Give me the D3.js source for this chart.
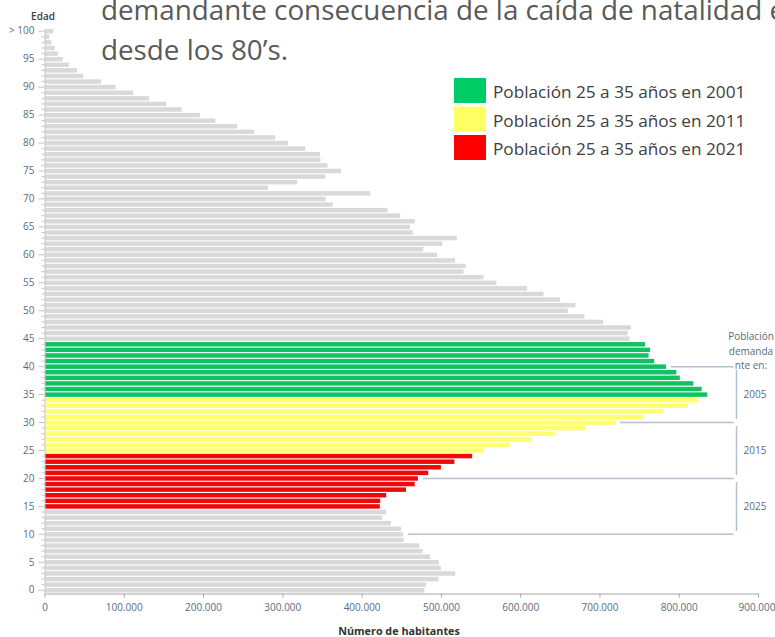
<!DOCTYPE html>
<html>
<head>
<meta charset="utf-8">
<script src="https://cdn.jsdelivr.net/npm/d3@7"></script>
<style>
  body { margin: 0; background: #fff; }
  svg { display: block; font-family: "Open Sans", sans-serif; }
</style>
</head>
<body>
<script>
// edades 0 .. 100 (la ultima es "> 100")
const ages = d3.range(0, 101)
const habitantes = [
  479000, 481000, 497000, 518000, 500000, 497500, 486500, 477000, 472700, 453000,   // 0-9
  452000, 449600, 437000, 426000, 431000, 423000, 423500, 431000, 456000, 467000,   // 10-19
  471000, 484000, 500000, 517000, 539500, 554600, 586500, 613500, 644500, 682000,   // 20-29
  719700, 754700, 780000, 811000, 824700, 836000, 829000, 818500, 801400, 797000,   // 30-39
  784000, 769000, 762000, 764000, 757500, 737800, 735700, 739700, 704600, 681000,   // 40-49
  660000, 669600, 650400, 629400, 608800, 570000, 553700, 528500, 531000, 518000,   // 50-59
  495000, 477700, 501700, 520000, 464700, 461000, 467000, 448700, 432700, 363700,   // 60-69
  354800, 411000, 282000, 318700, 354000, 374000, 357000, 348000, 347500, 329000,   // 70-79
  307000, 291000, 264700, 243000, 215500, 196000, 173000, 153400, 132000, 112000,   // 80-89
  89500, 71500, 48800, 41000, 30600, 23000, 16800, 13000, 8800, 6000,               // 90-99
  11000                                                                             // >100
]

const xTicks = [0, 100000, 200000, 300000, 400000, 500000, 600000, 700000, 800000, 900000]

// grupos resaltados
const groupLabels = ["Población 25 a 35 años en 2001", "Población 25 a 35 años en 2011", "Población 25 a 35 años en 2021"]
const groupColors = ["#10c264", "#ffff70", "#ee0a0a"]
const legendColors = ["#00cc66", "#ffff66", "#ff0000"]
const groupFrom = [35, 25, 15]
const groupTo = [44, 34, 24]

// llaves de la derecha
const bracketAges = [40, 30, 20, 10]
const bracketYears = ["2005", "2015", "2025"]
const bracketTitle = ["Población", "demanda", "nte en:"]

const titleLines = ["demandante consecuencia de la caída de natalidad en", "desde los 80’s."]

const width = 775
const height = 637

const svg = d3.select("body").append("svg")
  .attr("width", width)
  .attr("height", height)

const x = d3.scaleLinear()
  .domain([0, 900000])
  .range([44.5, 758])

const y = d3.scaleBand()
  .domain(ages.slice().reverse())
  .range([29, 592.5])
  .paddingInner(0.2)

const fmt = d3.formatLocale({decimal: ",", thousands: ".", grouping: [3], currency: ["", ""]}).format(",")

const colorFor = age => {
  for (let i = 0; i < groupFrom.length; i++) {
    if (age >= groupFrom[i] && age <= groupTo[i]) return groupColors[i]
  }
  return "#d9d9d9"
}

// titulo (cortado como en la diapositiva)
svg.append("text")
  .attr("x", 101).attr("y", 20)
  .attr("font-size", 27.8).attr("fill", "#595959")
  .text(titleLines[0])
svg.append("text")
  .attr("x", 101).attr("y", 60)
  .attr("font-size", 27.8).attr("fill", "#595959")
  .text(titleLines[1])

// barras
svg.selectAll("rect.bar")
  .data(ages)
  .enter()
  .append("rect")
  .attr("class", "bar")
  .attr("x", x(0) + 0.5)
  .attr("y", d => y(d))
  .attr("width", d => x(habitantes[d]) - x(0) - 0.5)
  .attr("height", y.bandwidth())
  .attr("fill", d => colorFor(d))

// eje y
const yAxis = d3.axisLeft(y)
  .tickValues(ages)
  .tickSize(3)
  .tickSizeOuter(0)
  .tickPadding(7)
  .tickFormat(d => d === 100 ? "> 100" : (d % 5 === 0 ? d : ""))

const gY = svg.append("g")
  .attr("transform", "translate(" + x(0) + ",0)")
  .call(yAxis)
gY.select(".domain").attr("stroke", "#c4c4c4")
gY.selectAll(".tick line").attr("stroke", "#c4c4c4")
gY.selectAll(".tick").filter(d => d % 5 === 0).select("line").attr("x2", -6)
gY.selectAll(".tick text")
  .attr("font-size", 10)
  .attr("fill", "#5b6b7c")
  .attr("font-family", "Open Sans, sans-serif")

svg.append("text")
  .attr("x", 43).attr("y", 20)
  .attr("text-anchor", "middle")
  .attr("font-size", 10).attr("font-weight", 600)
  .attr("fill", "#404040")
  .text("Edad")

// eje x
const xAxis = d3.axisBottom(x)
  .tickValues(xTicks)
  .tickSize(4)
  .tickSizeOuter(0)
  .tickPadding(6)
  .tickFormat(d => fmt(d))

const gX = svg.append("g")
  .attr("transform", "translate(0," + 593.5 + ")")
  .call(xAxis)
gX.select(".domain").attr("stroke", "#a6a6a6")
gX.selectAll(".tick line").attr("stroke", "#a6a6a6")
gX.selectAll(".tick text")
  .attr("font-size", 10)
  .attr("fill", "#5b6b7c")
  .attr("font-family", "Open Sans, sans-serif")
gX.selectAll(".tick text").filter(d => d === 900000).attr("dx", -1.5)

svg.append("text")
  .attr("x", 399).attr("y", 635)
  .attr("text-anchor", "middle")
  .attr("font-size", 10.8).attr("font-weight", 700)
  .attr("fill", "#333")
  .text("Número de habitantes")

// leyenda
const legend = svg.append("g").attr("id", "legend")
legend.selectAll("rect")
  .data(groupLabels)
  .enter()
  .append("rect")
  .attr("x", 454)
  .attr("y", (d, i) => 78 + i * 28.5)
  .attr("width", 32)
  .attr("height", 25)
  .attr("fill", (d, i) => legendColors[i])
legend.selectAll("text")
  .data(groupLabels)
  .enter()
  .append("text")
  .attr("x", 493)
  .attr("y", (d, i) => 98 + i * 28.5)
  .attr("font-size", 17.2)
  .attr("fill", "#404040")
  .text(d => d)

// llaves: lineas horizontales desde el final de la barra
const bracketX = 736.5
const lineColor = "#b3c1d1"
svg.selectAll("line.hline")
  .data(bracketAges)
  .enter()
  .append("line")
  .attr("class", "hline")
  .attr("x1", d => x(habitantes[d]) + 5)
  .attr("x2", bracketX - 3)
  .attr("y1", d => y(d) + y.bandwidth() / 2)
  .attr("y2", d => y(d) + y.bandwidth() / 2)
  .attr("stroke", lineColor)
  .attr("stroke-width", 1.5)

svg.selectAll("line.vline")
  .data(bracketYears)
  .enter()
  .append("line")
  .attr("class", "vline")
  .attr("x1", bracketX).attr("x2", bracketX)
  .attr("y1", (d, i) => y(bracketAges[i]) + y.bandwidth() / 2 + 3.5)
  .attr("y2", (d, i) => y(bracketAges[i + 1]) + y.bandwidth() / 2 - 3.5)
  .attr("stroke", lineColor)
  .attr("stroke-width", 1.5)

svg.selectAll("text.year")
  .data(bracketYears)
  .enter()
  .append("text")
  .attr("class", "year")
  .attr("x", 755)
  .attr("y", (d, i) => (y(bracketAges[i]) + y(bracketAges[i + 1])) / 2 + y.bandwidth() / 2 + 3.5)
  .attr("text-anchor", "middle")
  .attr("font-size", 10)
  .attr("fill", "#5b6b7c")
  .text(d => d)

svg.selectAll("text.btitle")
  .data(bracketTitle)
  .enter()
  .append("text")
  .attr("class", "btitle")
  .attr("x", 751)
  .attr("y", (d, i) => 340 + i * 14.5)
  .attr("text-anchor", "middle")
  .attr("font-size", 10)
  .attr("fill", "#5b6b7c")
  .text(d => d)
</script>
</body>
</html>
